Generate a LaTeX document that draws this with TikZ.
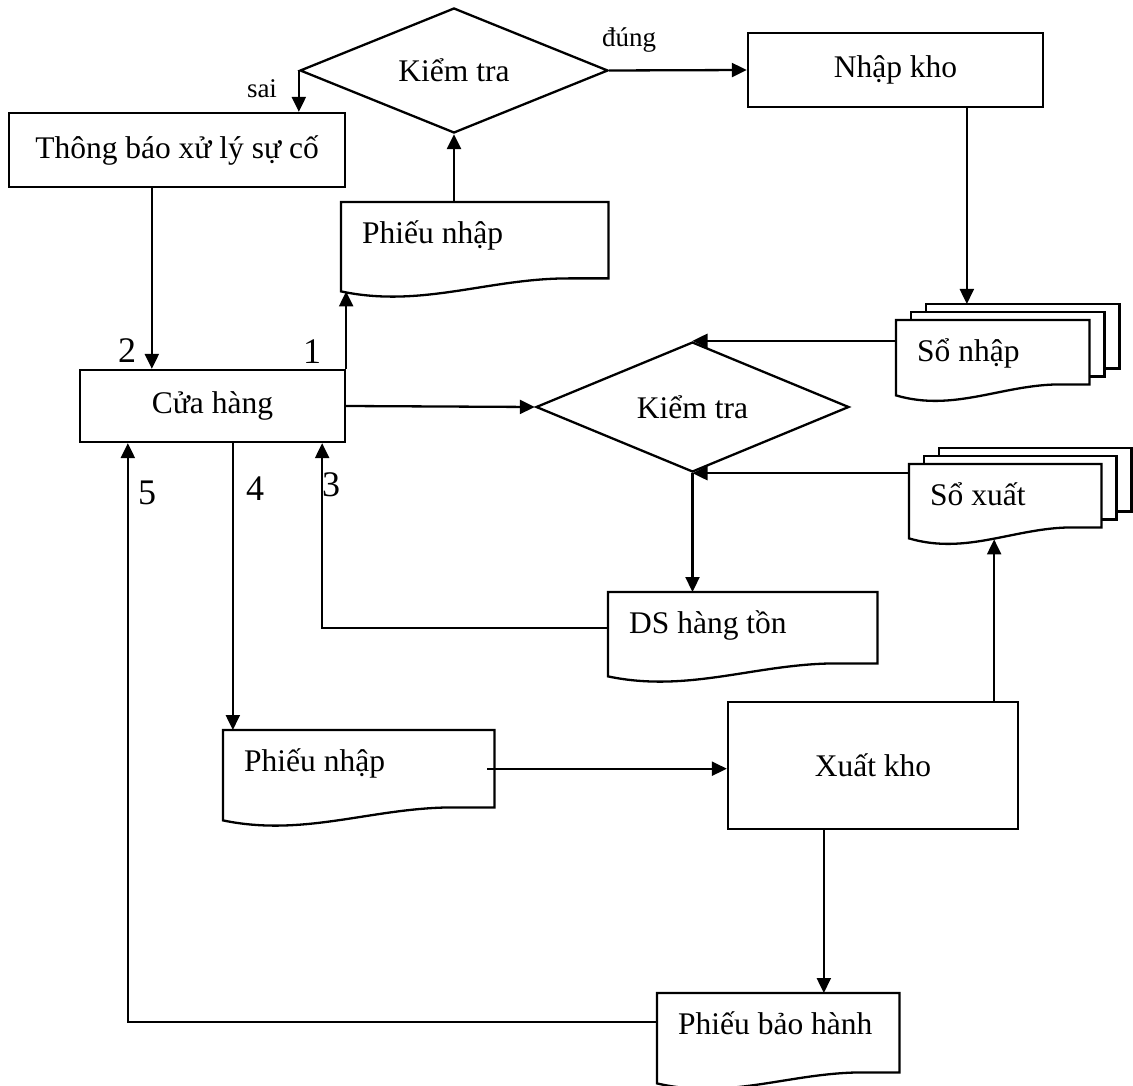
\documentclass[tikz,border=0pt]{standalone}
\usepackage{fontspec}
\setmainfont{Liberation Serif}
\usetikzlibrary{shapes.geometric,arrows.meta,calc}
\pgfdeclarelayer{bg}
\pgfsetlayers{bg,main}
% document outline drawn from a node's anchors: #1 = drop of the wavy bottom, #2 = node name
\newcommand\docframe[2][13]{%
  \draw[box,fill=white] (#2.south east) -- (#2.north east) -- (#2.north west)
    -- ([yshift=-#1pt]#2.south west)
    .. controls ($(#2.south west)!0.3!(#2.south east)+(0,#1+17)$)
           and ($(#2.south west)!0.55!(#2.south east)$)
    .. ($(#2.south west)!0.85!(#2.south east)$) -- cycle;}
% two sheets behind a multi-document
\newcommand\stackback[1]{%
  \draw[box,fill=white] ([shift={(30,-16)}]#1.north west) rectangle ([shift={(30,-16)}]#1.south east);
  \draw[box,fill=white] ([shift={(15,-8)}]#1.north west) rectangle ([shift={(15,-8)}]#1.south east);}
\begin{document}
\begin{tikzpicture}[x=1pt,y=-1pt,
  box/.style={draw,line width=2.3pt},
  txt/.style={font=\fontsize{31.5}{36}\selectfont},
  proc/.style={box,rectangle,inner sep=0pt,txt},
  dec/.style={box,diamond,aspect=2.5,inner sep=0pt,txt},
  doc/.style 2 args={anchor=north west,inner xsep=21pt,inner ysep=0pt,text width=#1,
    text height=41pt,text depth=#2,align=flush left,txt},
  lab/.style={inner sep=0pt,font=\fontsize{27}{30}\selectfont},
  num/.style={inner sep=0pt,font=\fontsize{36}{40}\selectfont},
  arr/.style={line width=2.3pt,-{Triangle[length=15pt,width=14pt]}}]
\useasboundingbox (0,0) rectangle (1133,1086);

% nodes
\node[dec,minimum width=308pt,minimum height=125pt] (d1) at (454,70.5) {Kiểm tra};
\node[proc,minimum width=336pt,minimum height=74pt] (tb) at (177,150) {Thông báo xử lý sự cố};
\node[proc,minimum width=295pt,minimum height=74pt] (nk) at (895.5,70) {Nhập kho};
\node[doc={225pt}{35pt}] (pn1) at (341,202) {Phiếu nhập};
\node[proc,minimum width=265pt,minimum height=72pt] (ch) at (212.5,406) {Cửa hàng};
\node[dec,minimum width=313pt,minimum height=130pt] (d2) at (692.5,407) {Kiểm tra};
\node[doc={151pt}{23pt}] (sn) at (896,320) {Sổ nhập};
\node[doc={150pt}{22pt}] (sx) at (909,464) {Sổ xuất};
\node[doc={227pt}{30pt}] (ds) at (608,592) {DS hàng tồn};
\node[doc={229pt}{36pt}] (pn2) at (223,730) {Phiếu nhập};
\node[proc,minimum width=290pt,minimum height=127pt] (xk) at (873,765.5) {Xuất kho};
\node[doc={200pt}{38pt}] (pbh) at (657,993) {Phiếu bảo hành};

\begin{pgfonlayer}{bg}
  \docframe{pn1}
  \stackback{sn}\docframe[11]{sn}
  \stackback{sx}\docframe[11]{sx}
  \docframe{ds}
  \docframe{pn2}
  \docframe[11]{pbh}
\end{pgfonlayer}

% labels
\node[lab] (lsai) at (262,89) {sai};
\node[lab] (ldung) at (629,40) {đúng};
\node[num] (l1) at (312,352) {1};
\node[num] (l2) at (127,351) {2};
\node[num] (l3) at (331,485) {3};
\node[num] (l4) at (255,489) {4};
\node[num] (l5) at (147,493) {5};

% helper coordinates on node borders
\coordinate (pn1bl) at ([yshift=-13pt]pn1.south west);
\coordinate (c2) at ([xshift=73pt]ch.north west);
\coordinate (c3) at ([xshift=-24pt]ch.south east);
\coordinate (c4) at ([xshift=154pt]ch.south west);
\coordinate (c7) at ([xshift=49pt]ch.south west);
\coordinate (c5) at ([xshift=-25pt]xk.north east);
\coordinate (sxb) at ([yshift=-12pt]sx.south);
\coordinate (c6) at ([xshift=97pt]xk.south west);
\coordinate (c8) at ([xshift=220pt]nk.south west);
\coordinate (snb) at ([yshift=16pt]sn.north);

% connectors
\draw[arr] (d1.west) -- (d1.west |- tb.north);
\draw[arr] (d1.east) -- (nk.west);
\draw[arr] (d1.south |- pn1.north) -- (d1.south);
\draw[arr] (ch.north east) -- (pn1bl -| ch.north east);
\draw[arr] (c2 |- tb.south) -- (c2);
\draw[arr] (ch.east) -- (d2.west);
\draw[arr] (c8) -- (c8 |- snb);
\draw[arr] (d2.north -| sn.west) -- (d2.north);
\draw[arr] (d2.south -| sx.west) -- (d2.south);
\draw[arr] (d2.south) -- (d2.south |- ds.north);
\draw[arr] (ds.west) -| (c3);
\draw[arr] (c4) -- (c4 |- pn2.north);
\draw[arr] ([xshift=-7pt]pn2.east) -- (pn2.east -| xk.west);
\draw[arr] (c5) -- (c5 |- sxb);
\draw[arr] (c6) -- (c6 |- pbh.north);
\draw[arr] ([yshift=11pt]pbh.west) -| (c7);
\end{tikzpicture}
\end{document}
